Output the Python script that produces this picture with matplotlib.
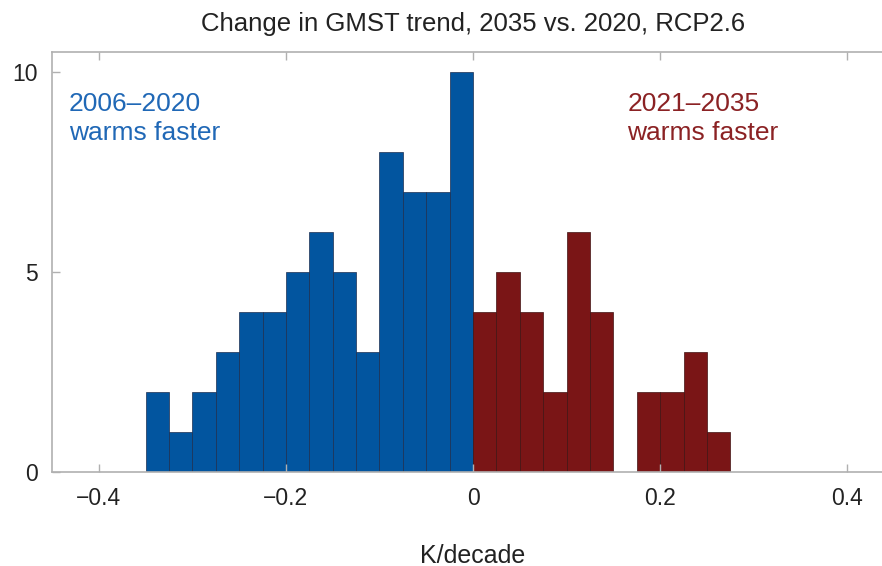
import numpy as np
import matplotlib.pyplot as plt

plt.rcParams['font.family'] = ['Liberation Sans', 'DejaVu Sans']

# histogram data (K/decade)
bin_width = 0.025
blue_start = -0.35
blue_counts = [2, 1, 2, 3, 4, 4, 5, 6, 5, 3, 8, 7, 7, 10]
red_start = 0.0
red_counts = [4, 5, 4, 2, 6, 4, 0, 2, 2, 3, 1]

x_ticks = [-0.4, -0.2, 0, 0.2, 0.4]
x_ticklabels = ['\u22120.4', '\u22120.2', '0', '0.2', '0.4']
y_ticks = [0, 5, 10]

blue = '#02559f'
red = '#7a1516'
frame = '#b0b0b0'

fig = plt.figure(figsize=(8.82, 5.66), dpi=100)
ax = fig.add_axes([52 / 882, 1 - 472 / 566, (894 - 52) / 882, (472 - 52) / 566])

blue_left = blue_start + bin_width * np.arange(len(blue_counts))
red_left = red_start + bin_width * np.arange(len(red_counts))
ax.bar(blue_left, blue_counts, width=bin_width, align='edge',
       color=blue, edgecolor='#1c2e50', linewidth=0.5)
ax.bar(red_left, red_counts, width=bin_width, align='edge',
       color=red, edgecolor='#401212', linewidth=0.5)

ax.set_xlim(-0.45, 0.45)
ax.set_ylim(0, 10.5)
ax.set_xticks(x_ticks)
ax.set_xticklabels(x_ticklabels)
ax.set_yticks(y_ticks)

for s in ax.spines.values():
    s.set_color(frame)
    s.set_linewidth(1.2)
ax.tick_params(direction='in', length=6, width=1, color=frame,
               top=True, right=True, labelsize=16.5, labelcolor='#222222')
ax.tick_params(axis='x', pad=11)
ax.tick_params(axis='y', pad=10)

ax.set_title('Change in GMST trend, 2035 vs. 2020, RCP2.6',
             fontsize=18.5, color='#222222', pad=15)
ax.set_xlabel('K/decade', fontsize=18, color='#222222', labelpad=24)

ax.text(-0.432, 9.5, '2006\u20132020\nwarms faster', color='#2068b6',
        fontsize=19, va='top', ha='left', linespacing=1.25)
ax.text(0.165, 9.5, '2021\u20132035\nwarms faster', color='#8b2224',
        fontsize=19, va='top', ha='left', linespacing=1.25)

fig.savefig('out.png', dpi=100)
